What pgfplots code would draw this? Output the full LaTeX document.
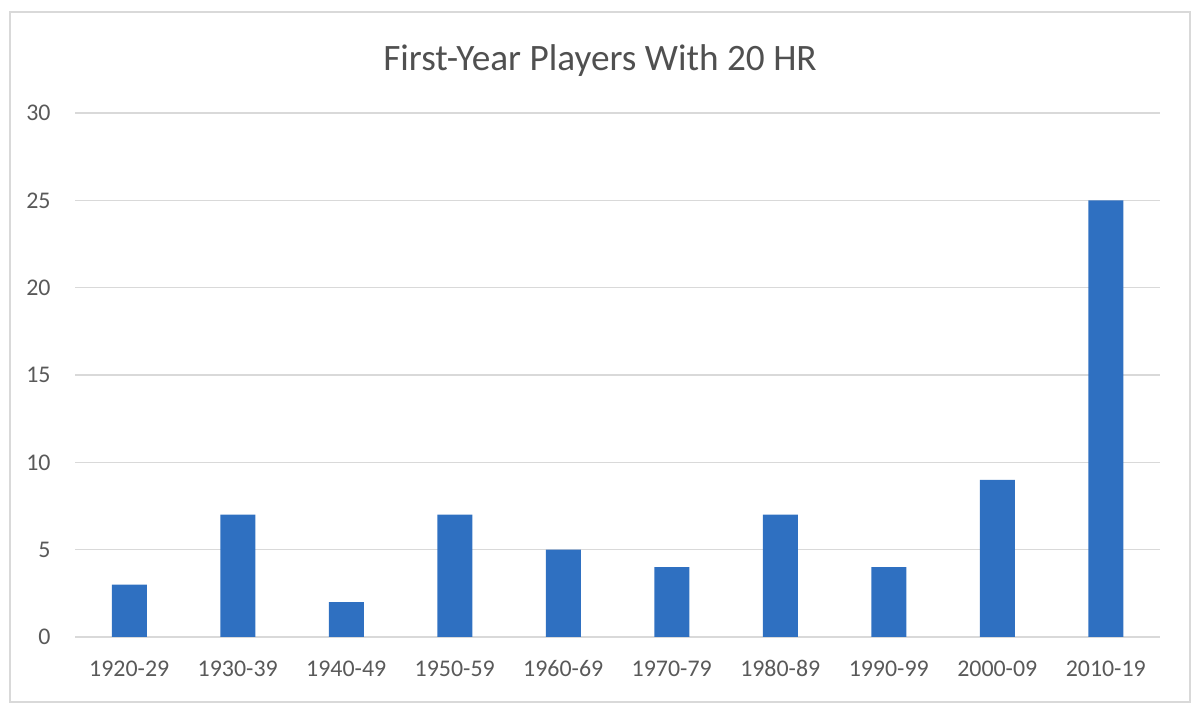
\documentclass[border=0pt]{standalone}
\usepackage{fontspec}
\setmainfont{Carlito}
\usepackage{pgfplots}
\pgfplotsset{compat=1.18}
\definecolor{barblue}{RGB}{47,112,193}
\definecolor{gridgray}{RGB}{217,217,217}
\definecolor{txtgray}{RGB}{89,89,89}
\begin{document}
\begin{tikzpicture}
\useasboundingbox (-37.5bp,-36bp) rectangle (562.5bp,318.5bp);
\draw[gridgray, line width=0.6bp] (-32.5bp,-32.5bp) rectangle (557.5bp,312.5bp);
\begin{axis}[
    at={(0,0)}, anchor=south west,
    scale only axis,
    width=542.5bp, height=262bp,
    ybar, bar width=17.5bp,
    xmin=-0.5, xmax=9.5,
    ymin=0, ymax=30,
    xtick=data,
    xticklabels={1920-29,1930-39,1940-49,1950-59,1960-69,1970-79,1980-89,1990-99,2000-09,2010-19},
    ytick={0,5,...,30},
    ymajorgrids, grid style={gridgray, line width=0.6bp},
    axis x line*=bottom, axis y line*=left,
    x axis line style={gridgray, line width=0.8bp},
    y axis line style={draw=none},
    major tick length=0pt,
    tick style={draw=none},
    /pgf/number format/assume math mode=true,
    ticklabel style={font=\fontsize{12}{14}\selectfont, text=txtgray},
    yticklabel style={inner sep=0pt, anchor=east, xshift=-12bp},
    xticklabel style={inner sep=0pt, anchor=base, text height=8bp, yshift=-19.5bp},
]
\addplot[draw=none, fill=barblue] coordinates {
    (0,3) (1,7) (2,2) (3,7) (4,5) (5,4) (6,7) (7,4) (8,9) (9,25)
};
\end{axis}
\node[text=txtgray!90!black, font=\fontsize{18.7}{22}\selectfont, anchor=center] at (262.5bp,288bp) {First-Year Players With 20 HR};
\end{tikzpicture}
\end{document}
